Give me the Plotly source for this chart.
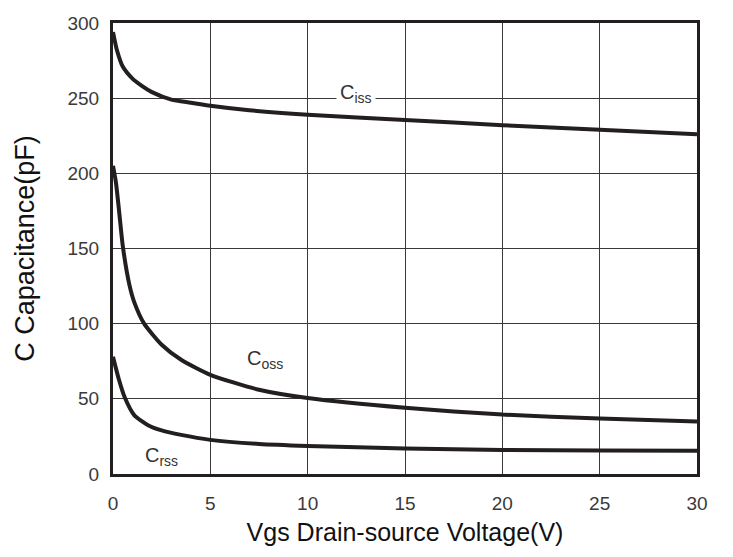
import plotly.graph_objects as go

ciss_x = [0, 0.2, 0.5, 1.0, 1.5, 2, 3, 4, 5, 7, 10, 15, 20, 25, 30]
ciss_y = [294, 282, 271, 263, 258, 254, 249, 247, 245, 242, 239, 235.5, 232, 229, 226]

coss_x = [0, 0.15, 0.32, 0.5, 0.84, 1.1, 1.6, 2.5, 3.5, 5, 7.5, 10, 15, 20, 25, 30]
coss_y = [205, 194, 174, 152, 126, 114, 100, 86, 76, 66, 56, 50.5, 44, 39.5, 37, 35]

crss_x = [0, 0.3, 0.6, 1.1, 1.8, 2.5, 3.5, 5, 7.5, 10, 15, 20, 25, 30]
crss_y = [78, 63, 51, 39, 32.5, 29, 26, 22.7, 20, 18.7, 17, 16, 15.7, 15.5]

x_ticks = [0, 5, 10, 15, 20, 25, 30]
y_ticks = [0, 50, 100, 150, 200, 250, 300]

FONT = "Liberation Sans, Arial, Helvetica"

fig = go.Figure()
line = dict(color="#231f20", width=4, shape="spline", smoothing=0.6)
for xs, ys in [(ciss_x, ciss_y), (coss_x, coss_y), (crss_x, crss_y)]:
    fig.add_trace(go.Scatter(x=xs, y=ys, mode="lines", line=line, showlegend=False, hoverinfo="skip"))

labels = [("C<sub>iss</sub>", 12.5, 253, "white"), ("C<sub>oss</sub>", 7.8, 76, None), ("C<sub>rss</sub>", 2.5, 11.5, None)]
for txt, x, y, bg in labels:
    fig.add_annotation(x=x, y=y, text=txt, showarrow=False,
                       font=dict(family=FONT, size=20, color="#333"),
                       bgcolor=bg if bg else "rgba(0,0,0,0)", borderpad=3)

axis_common = dict(showline=True, linecolor="#231f20", linewidth=3, mirror=True,
                   showgrid=True, gridcolor="#3a3a3a", gridwidth=1, zeroline=False,
                   ticks="", automargin=False,
                   tickfont=dict(family=FONT, size=19, color="#3a3a3a"))

fig.update_xaxes(range=[0, 30], tickvals=x_ticks, ticktext=[str(v) for v in x_ticks],
                 title=dict(text="Vgs Drain-source Voltage(V)", font=dict(family=FONT, size=25, color="#111"), standoff=11),
                 ticklabelstandoff=10, **axis_common)
fig.update_yaxes(range=[0, 300], tickvals=y_ticks, ticktext=[str(v) for v in y_ticks],
                 title=dict(text="C Capacitance(pF)", font=dict(family=FONT, size=27, color="#111"), standoff=26),
                 ticklabelstandoff=7, **axis_common)

fig.update_layout(width=725, height=549, margin=dict(l=105, r=36, t=15, b=83),
                  plot_bgcolor="white", paper_bgcolor="white")

fig.write_html("out.html")
